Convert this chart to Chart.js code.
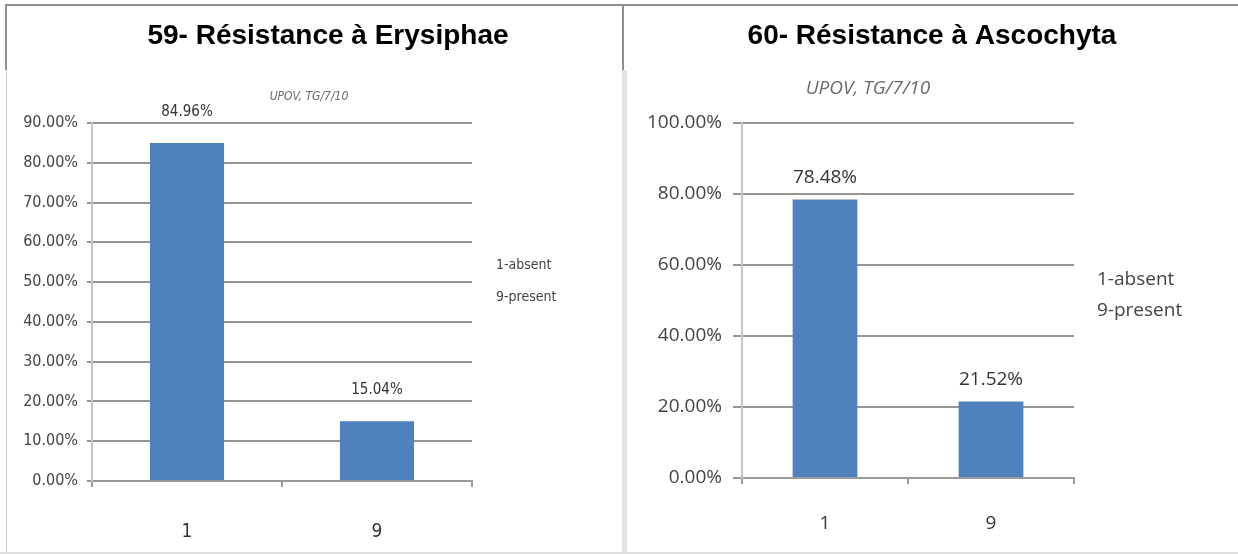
<!DOCTYPE html>
<html><head><meta charset="utf-8">
<script src="https://cdn.jsdelivr.net/npm/chart.js@4.4.1/dist/chart.umd.min.js"></script>
<style>
html,body{margin:0;padding:0;background:#fff;width:1238px;height:554px;overflow:hidden;position:relative}
canvas{position:absolute;top:0}
.ln{position:absolute}
</style></head><body>
<canvas id="c1" width="620" height="554" style="left:0"></canvas>
<canvas id="c2" width="618" height="554" style="left:620px"></canvas>
<div class="ln" style="left:5px;top:4px;width:617px;height:2px;background:#8f8f8f"></div>
<div class="ln" style="left:624px;top:4px;width:614px;height:2px;background:#8f8f8f"></div>
<div class="ln" style="left:5px;top:4px;width:2px;height:66px;background:#8f8f8f"></div>
<div class="ln" style="left:6px;top:70px;width:1px;height:483px;background:#cfcfcf"></div>
<div class="ln" style="left:622px;top:4px;width:2px;height:66px;background:#8f8f8f"></div>
<div class="ln" style="left:622px;top:70px;width:5px;height:484px;background:#e3e3e3"></div>
<div class="ln" style="left:0;top:552px;width:1238px;height:2px;background:#dedede"></div>
<script>
// ---- data ----
const categories = ['1', '9'];
const erysiphaeValues = [84.96, 15.04];
const ascochytaValues = [78.48, 21.52];
const erysiphaeTicks = [0, 10, 20, 30, 40, 50, 60, 70, 80, 90];
const ascochytaTicks = [0, 20, 40, 60, 80, 100];
const titles = ['59- Résistance à Erysiphae', '60- Résistance à Ascochyta'];
const sourceNote = 'UPOV, TG/7/10';
const legendLines = ['1-absent', '9-present'];

Chart.defaults.devicePixelRatio = 1;
const BAR = '#4F81BD';

const panelText = {
  id: 'panelText',
  afterDraw(chart, args, opts) {
    const ctx = chart.ctx;
    (opts.items || []).forEach(it => {
      ctx.save();
      ctx.font = it.font;
      ctx.fillStyle = it.color;
      ctx.textAlign = it.align || 'left';
      ctx.textBaseline = 'middle';
      ctx.fillText(it.text, it.x, it.y);
      ctx.restore();
    });
  }
};
const valueLabels = {
  id: 'valueLabels',
  afterDatasetsDraw(chart, args, opts) {
    const ctx = chart.ctx;
    const meta = chart.getDatasetMeta(0);
    const data = chart.data.datasets[0].data;
    ctx.save();
    ctx.font = opts.font;
    ctx.fillStyle = opts.color;
    ctx.textAlign = 'center';
    ctx.textBaseline = 'middle';
    meta.data.forEach((bar, i) => {
      ctx.fillText(data[i].toFixed(2) + '%', bar.x, bar.y - opts.offset);
    });
    ctx.restore();
  }
};

function makeChart(id, cfg) {
  return new Chart(document.getElementById(id), {
    type: 'bar',
    data: {
      labels: categories,
      datasets: [{ data: cfg.values, backgroundColor: BAR, borderWidth: 0,
        categoryPercentage: 1, barPercentage: 0.39 }]
    },
    options: {
      responsive: false, animation: false,
      layout: { padding: cfg.padding },
      plugins: {
        legend: { display: false }, tooltip: { enabled: false }, title: { display: false },
        valueLabels: { font: cfg.labelFont, color: '#333', offset: cfg.labelOffset },
        panelText: { items: cfg.texts }
      },
      scales: {
        x: {
          afterFit: s => { s.height = cfg.xHeight; },
          grid: { drawOnChartArea: false, drawTicks: true, tickLength: 6, color: '#9a9a9a', lineWidth: 2, offset: true },
          border: { color: '#9a9a9a', width: 2 },
          ticks: { color: '#333', font: cfg.xFont, padding: cfg.xPad }
        },
        y: {
          min: 0, max: cfg.max,
          afterFit: s => { s.width = cfg.yWidth; },
          afterBuildTicks: s => { s.ticks = cfg.ticks.map(v => ({ value: v })); },
          grid: { color: '#959595', lineWidth: 2, drawTicks: true, tickLength: cfg.tickLen },
          border: { color: '#c4c4c4', width: 2 },
          ticks: { color: '#444', font: cfg.yFont, padding: cfg.yPad,
            callback: v => Number(v).toFixed(2) + '%' }
        }
      }
    },
    plugins: [valueLabels, panelText]
  });
}

const condensed = '"DejaVu Sans Condensed", "DejaVu Sans"';
makeChart('c1', {
  values: erysiphaeValues, max: 90, ticks: erysiphaeTicks,
  padding: { left: 12, right: 148, top: 123, bottom: 0 },
  yWidth: 80, xHeight: 73, tickLen: 5, yPad: 9, xPad: 34,
  yFont: { family: condensed, size: 16 },
  xFont: { family: condensed, size: 19 },
  labelFont: '15px ' + condensed, labelOffset: 31,
  texts: [
    { text: titles[0], x: 328, y: 36, font: 'bold 28px "Liberation Sans", Arial', color: '#000', align: 'center' },
    { text: sourceNote, x: 309, y: 97, font: 'oblique 12px ' + condensed, color: '#6a6a6a', align: 'center' },
    { text: legendLines[0], x: 496, y: 265, font: '14px ' + condensed, color: '#444' },
    { text: legendLines[1], x: 496, y: 297, font: '14px ' + condensed, color: '#444' }
  ]
});
makeChart('c2', {
  values: ascochytaValues, max: 100, ticks: ascochytaTicks,
  padding: { left: 22, right: 164, top: 123, bottom: 0 },
  yWidth: 100, xHeight: 76, tickLen: 9, yPad: 11, xPad: 28,
  yFont: { family: '"Open Sans"', size: 19 },
  xFont: { family: '"Open Sans"', size: 19 },
  labelFont: '19px "Open Sans"', labelOffset: 22,
  texts: [
    { text: titles[1], x: 312, y: 36, font: 'bold 28px "Liberation Sans", Arial', color: '#000', align: 'center' },
    { text: sourceNote, x: 248, y: 89, font: 'italic 19px "Open Sans"', color: '#6a6a6a', align: 'center' },
    { text: legendLines[0], x: 477, y: 280, font: '19px "Open Sans"', color: '#444' },
    { text: legendLines[1], x: 477, y: 311, font: '19px "Open Sans"', color: '#444' }
  ]
});
</script>
</body></html>
